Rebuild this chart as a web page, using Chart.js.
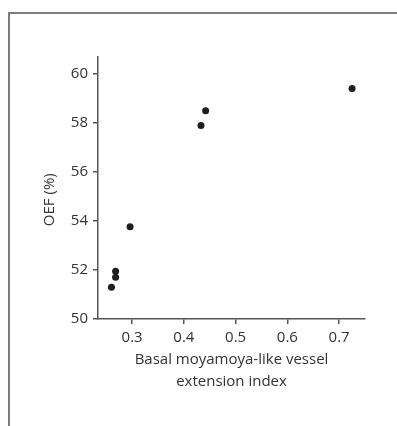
<!DOCTYPE html>
<html>
<head>
<meta charset="utf-8">
<script src="https://cdn.jsdelivr.net/npm/chart.js@4/dist/chart.umd.min.js"></script>
<style>
  body { margin: 0; background: #fff; }
  .wrap { position: relative; width: 397px; height: 426px; overflow: hidden; }
  .frame {
    position: absolute; left: 8px; top: 12px; width: 400px; height: 420px;
    border-left: 2px solid #7d7d7d; border-top: 2px solid #7d7d7d;
  }
  canvas { position: absolute; left: 0; top: 0; }
</style>
</head>
<body>
<div class="wrap">
  <div class="frame"></div>
  <canvas id="scatter" width="397" height="426"></canvas>
</div>
<script>
// vessel extension index vs OEF
const extensionIndex = [0.260, 0.268, 0.268, 0.296, 0.433, 0.442, 0.725];
const oefValues = [51.3, 51.7, 51.95, 53.76, 57.9, 58.5, 59.4];
const xTicks = [0.3, 0.4, 0.5, 0.6, 0.7];
const yTicks = [50, 52, 54, 56, 58, 60];

const axisColor = "#555";
const textColor = "#333";
const font = {family: "'Open Sans', sans-serif", size: 15};

const points = extensionIndex.map((x, i) => ({x, y: oefValues[i]}));

new Chart(document.getElementById("scatter"), {
    type: "scatter",
    data: {
        datasets: [
            {
                data: points,
                backgroundColor: "#1e1e1e",
                borderWidth: 0,
                pointRadius: 3.5
            }
        ]
    },
    options: {
        responsive: false,
        animation: false,
        events: [],
        layout: {padding: {top: 57, right: 32, left: 0, bottom: 0}},
        plugins: {legend: {display: false}, tooltip: {enabled: false}},
        scales: {
            x: {
                type: "linear",
                min: 0.234,
                max: 0.75,
                afterBuildTicks: axis => { axis.ticks = xTicks.map(v => ({value: v})); },
                afterFit: axis => { axis.height = 107; },
                grid: {drawOnChartArea: false, drawTicks: true, tickLength: 5, color: axisColor, lineWidth: 1.5},
                border: {display: true, color: axisColor, width: 1.5},
                ticks: {color: textColor, font, padding: 5, callback: v => v.toFixed(1)},
                title: {
                    display: true,
                    text: ["Basal moyamoya-like vessel", "extension index"],
                    color: textColor,
                    font: {family: font.family, size: 15, lineHeight: 1.467},
                    padding: {top: 0, bottom: 33}
                }
            },
            y: {
                type: "linear",
                min: 50,
                max: 60.69,
                afterBuildTicks: axis => { axis.ticks = yTicks.map(v => ({value: v})); },
                afterFit: axis => { axis.width = 98; },
                grid: {drawOnChartArea: false, drawTicks: true, tickLength: 5, color: axisColor, lineWidth: 1.5},
                border: {display: true, color: axisColor, width: 1.5},
                ticks: {color: textColor, font, padding: 5},
                title: {
                    display: true,
                    // trailing spaces nudge the label down a little, like the original
                    text: "OEF (%)      ",
                    color: textColor,
                    font: {family: font.family, size: 15},
                    padding: {top: 41, bottom: 0}
                }
            }
        }
    }
});
</script>
</body>
</html>
